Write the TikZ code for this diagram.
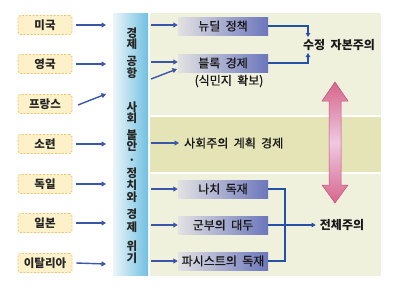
\documentclass[tikz,border=0pt]{standalone}
\usepackage{fontspec}
\setmainfont[WordSpace=2]{Noto Sans CJK KR}
\newfontfamily\medf[WordSpace=2,FakeBold=0.8]{Noto Sans CJK KR}
\usetikzlibrary{arrows.meta,shadings}
\definecolor{cbfill}{RGB}{252,241,200}
\definecolor{cbdraw}{RGB}{240,196,110}
\definecolor{panelA}{RGB}{240,241,221}
\definecolor{panelB}{RGB}{229,228,182}
\definecolor{barR}{RGB}{112,192,224}
\definecolor{barL}{RGB}{236,246,250}
\definecolor{boxL}{RGB}{226,226,226}
\definecolor{boxR}{RGB}{108,118,188}
\definecolor{arrblue}{RGB}{58,86,168}
\definecolor{lnblue}{RGB}{36,80,168}
\definecolor{pinkD}{RGB}{214,102,140}
\definecolor{pinkL}{RGB}{240,200,228}
\definecolor{pinkE}{RGB}{196,80,120}
\tikzset{
  country/.style={draw=cbdraw, fill=cbfill, dash pattern=on 2pt off 1.5pt, line width=0.8pt,
    rounded corners=2.5pt, minimum width=54pt, minimum height=19pt, inner sep=0pt,
    font=\fontsize{11.5}{11.5}\selectfont\bfseries, text=black!85},
  gbox/.style={left color=boxL, right color=boxR, minimum width=90pt, minimum height=18pt,
    inner sep=0pt, font=\fontsize{12}{12}\medf, text=black!90},
  barch/.style={font=\fontsize{11.5}{11.5}\selectfont\bfseries, text=black!85, inner sep=0pt},
  lbl/.style={font=\fontsize{12}{12}\medf, text=black!90, inner sep=0pt},
  lblb/.style={font=\fontsize{12}{12}\selectfont\bfseries, text=black!90, inner sep=0pt},
  barr/.style={draw=arrblue, line width=1.4pt, -{Triangle[length=4.5pt,width=5pt]}},
  conn/.style={draw=lnblue, line width=1.1pt},
  conna/.style={conn, -{Triangle[length=4pt,width=4.5pt]}}
}
\begin{document}
\begin{tikzpicture}[x=1pt,y=-1pt]
\useasboundingbox (0,0) rectangle (395,289);
\fill[white] (0,0) rectangle (395,289);
% panels
\fill[panelA] (150,13) rectangle (381,115);
\fill[panelB] (150,117) rectangle (381,172);
\fill[panelA] (150,174) rectangle (381,276);
% bar
\shade[left color=barL, right color=barR] (113,13) rectangle (148,275);
% vertical characters
\foreach \c/\y in {경/33,제/44,공/61,항/73,사/107,회/118,불/135,안/146,·/162,정/173,치/185,와/197,경/214,제/227,위/246,기/258}
  \node[barch] at (132,\y) {\c};
% countries
\node[country] (us) at (45,25) {미국};
\node[country] (uk) at (45,64) {영국};
\node[country] (fr) at (45,104) {프랑스};
\node[country] (su) at (45,144) {소련};
\node[country] (de) at (45,184) {독일};
\node[country] (jp) at (45,223) {일본};
\node[country] (it) at (45,263) {이탈리아};
% arrows to bar
\coordinate (t1) at (106,25);
\coordinate (t2) at (106,64);
\coordinate (t3) at (106,94);
\coordinate (t4) at (106,144);
\coordinate (t5) at (106,184);
\coordinate (t6) at (106,223);
\coordinate (t7) at (106,264);
\coordinate (f3) at (78,105);
\draw[barr] ([xshift=4pt]us.east) -- (t1);
\draw[barr] ([xshift=4pt]uk.east) -- (t2);
\draw[barr] (f3) -- (t3);
\draw[barr] ([xshift=4pt]su.east) -- (t4);
\draw[barr] ([xshift=4pt]de.east) -- (t5);
\draw[barr] ([xshift=4pt]jp.east) -- (t6);
\draw[barr] ([xshift=4pt]it.east) -- (t7);
% right boxes
\node[gbox] (nd) at (223,26) {뉴딜 정책};
\node[gbox] (bl) at (223,63) {블록 경제};
\node[lbl] (col) at (229,81) {(식민지 확보)};
\node[lbl, anchor=west] (soc) at (184,143) {사회주의 계획 경제};
\node[gbox] (nz) at (223,189) {나치 독재};
\node[gbox] (mil) at (223,225) {군부의 대두};
\node[gbox] (fa) at (223,261) {파시스트의 독재};
\node[lblb] (sj) at (339,45) {수정 자본주의};
\node[lblb] (tt) at (342,225) {전체주의};
% arrows from bar to boxes
\coordinate (s1) at (151,25);
\coordinate (s2) at (151,62);
\coordinate (s3) at (151,79);
\coordinate (s4) at (151,143);
\coordinate (s5) at (151,189);
\coordinate (s6) at (151,225);
\coordinate (s7) at (151,261);
\coordinate (e3) at (177,69);
\draw[barr] (s1) -- (nd.west |- s1);
\draw[barr] (s2) -- (bl.west |- s2);
\draw[barr] (s3) -- (e3);
\draw[barr] (s4) -- ([xshift=-5pt]soc.west);
\draw[barr] (s5) -- (nz.west);
\draw[barr] (s6) -- (mil.west);
\draw[barr] (s7) -- (fa.west);
% connectors to 수정 자본주의
\coordinate (sjt) at (308,37);
\coordinate (sjb) at (308,53);
\draw[conna] (nd.east) -| (sjt);
\draw[conna] (bl.east) -| (sjb);
% connectors to 전체주의
\coordinate (jn) at (285,225);
\draw[conn] (nz.east) -| (jn);
\draw[conn] (fa.east) -| (jn);
\draw[conn] (mil.east) -- (jn);
\draw[conna] (jn) -- ([xshift=-4pt]tt.west);
% pink double arrow
\shade[top color=pinkD, bottom color=pinkD, middle color=pinkL, draw=pinkE, line width=0.5pt]
  (335,82) -- (348,101) -- (341,101) -- (341,185) -- (348,185) -- (335,203)
  -- (322,185) -- (329,185) -- (329,101) -- (322,101) -- cycle;
\end{tikzpicture}
\end{document}
